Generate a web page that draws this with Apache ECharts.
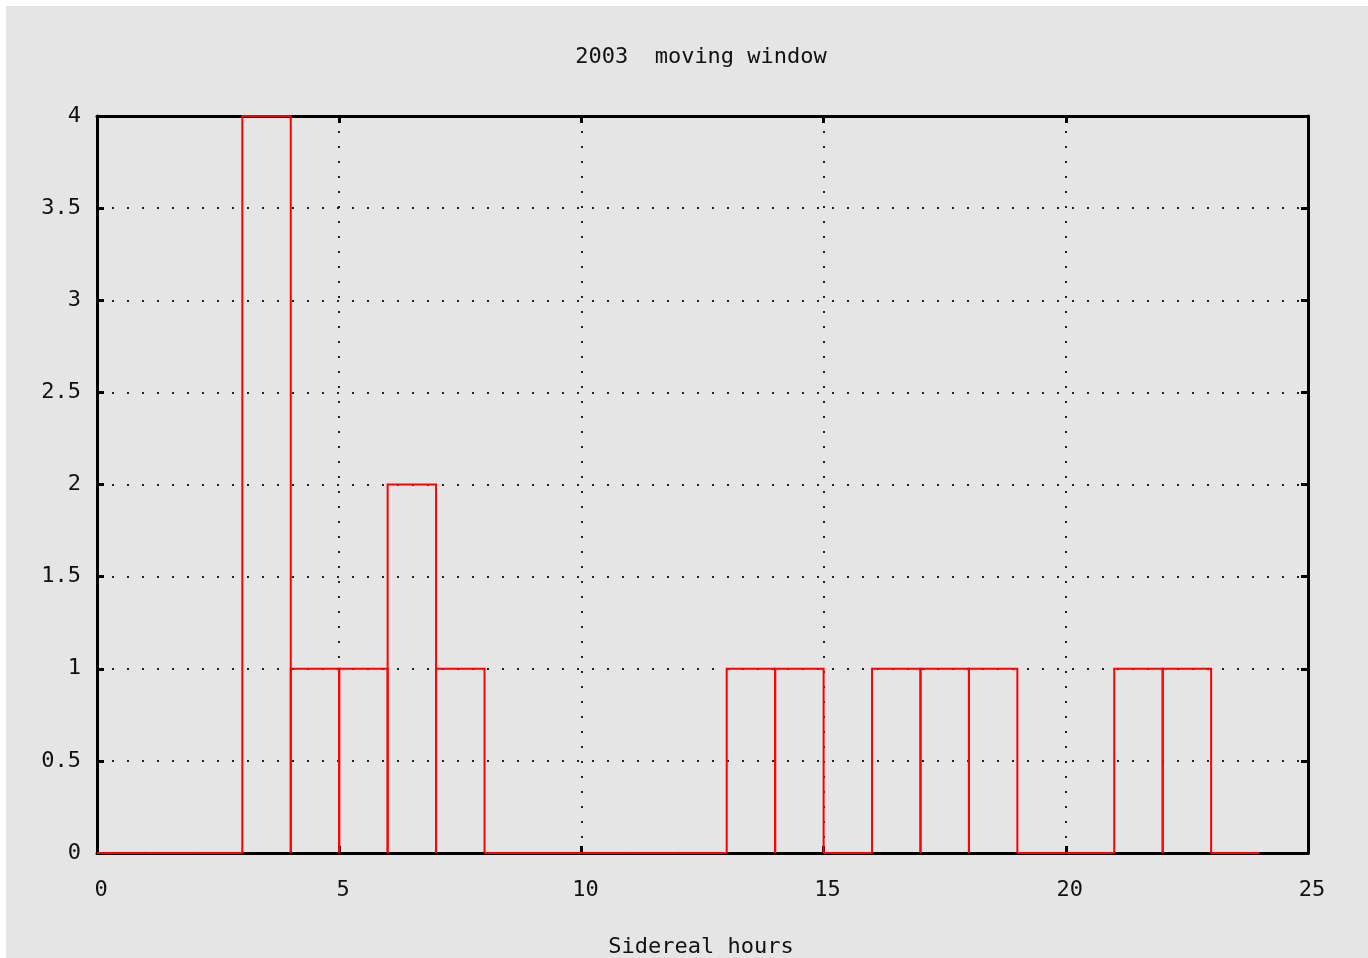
<!DOCTYPE html>
<html>
<head>
<meta charset="utf-8">
<script src="https://cdn.jsdelivr.net/npm/echarts@6/dist/echarts.min.js"></script>
<style>
html,body{margin:0;padding:0;background:#ffffff;width:1368px;height:958px;overflow:hidden;}
#chart{position:absolute;left:6px;top:6px;width:1362px;height:952px;background:#e5e5e5;}
</style>
</head>
<body>
<div id="chart"></div>
<script>
var titleText = '2003  moving window';
var xAxisTitle = 'Sidereal hours';
var binStarts = [0,1,2,3,4,5,6,7,8,9,10,11,12,13,14,15,16,17,18,19,20,21,22,23];
var counts    = [0,0,0,4,1,1,2,1,0,0,0, 0, 0, 1, 1, 0, 1, 1, 1, 0, 0, 1, 1, 0];
var binWidth = 1;

var FONT = '"DejaVu Sans Mono", "Liberation Mono", monospace';
var chart = echarts.init(document.getElementById('chart'), null, {renderer:'canvas'});

var data = binStarts.map(function(s,i){ return [s, s+binWidth, counts[i]]; });

var dotLine = {show:true, lineStyle:{color:'#222', width:2, type:[2,13]}};
var tickIn = {show:true, inside:true, length:7, lineStyle:{color:'#000', width:3}};
var axisLn = {show:true, onZero:false, lineStyle:{color:'#000', width:3}};

chart.setOption({
  animation:false,
  backgroundColor:'#e5e5e5',
  grid:{left:91, right:60, top:110, bottom:105, containLabel:false},
  xAxis:[
    {type:'value', min:0, max:25, interval:5, position:'bottom',
     axisLine:axisLn, axisTick:tickIn, splitLine:dotLine,
     axisLabel:{color:'#111', fontFamily:FONT, fontSize:22, margin:26, padding:[0,0,0,8]}},
    {type:'value', min:0, max:25, interval:5, position:'top',
     axisLine:axisLn, axisTick:tickIn, splitLine:{show:false}, axisLabel:{show:false}}
  ],
  yAxis:[
    {type:'value', min:0, max:4, interval:0.5, position:'left',
     axisLine:axisLn, axisTick:tickIn, splitLine:dotLine,
     axisLabel:{color:'#111', fontFamily:FONT, fontSize:22, margin:16}},
    {type:'value', min:0, max:4, interval:0.5, position:'right',
     axisLine:axisLn, axisTick:tickIn, splitLine:{show:false}, axisLabel:{show:false}}
  ],
  graphic:[
    {type:'text', style:{text:titleText, x:695, y:51, align:'center', verticalAlign:'middle', font:'22px '+FONT, fill:'#111'}},
    {type:'text', style:{text:xAxisTitle, x:695, y:941, align:'center', verticalAlign:'middle', font:'22px '+FONT, fill:'#111'}}
  ],
  series:[{
    type:'custom',
    xAxisIndex:0, yAxisIndex:0,
    z:10,
    clip:false,
    data:data,
    encode:{x:[0,1], y:2},
    renderItem:function(params, api){
      var x0 = api.value(0), x1 = api.value(1), v = api.value(2);
      var p0 = api.coord([x0, 0]);
      var p1 = api.coord([x0, v]);
      var p2 = api.coord([x1, v]);
      var p3 = api.coord([x1, 0]);
      return {
        type:'polyline',
        shape:{points:[p0,p1,p2,p3]},
        style:{stroke:'#ff0000', lineWidth:2, fill:null}
      };
    }
  }]
});
</script>
</body>
</html>
